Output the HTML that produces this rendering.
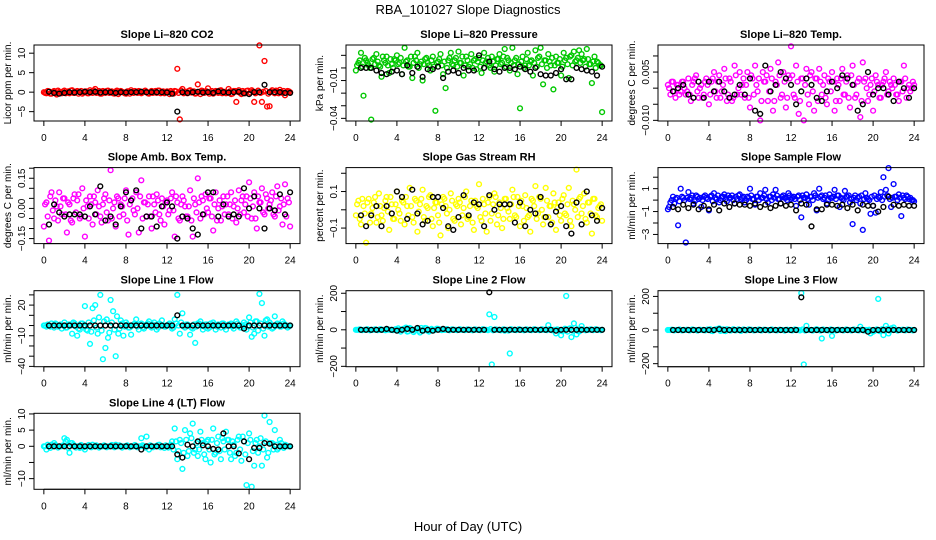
<!DOCTYPE html>
<html><head><meta charset="utf-8"><style>
html,body{margin:0;padding:0;background:#fff;}
svg{display:block;font-family:"Liberation Sans",sans-serif;}
</style></head><body>
<svg id="chart" width="936" height="540" viewBox="0 0 936 540" xmlns="http://www.w3.org/2000/svg">
<rect x="0" y="0" width="936" height="540" fill="#fff"/>
<text x="468" y="14" text-anchor="middle" font-size="13">RBA_101027  Slope Diagnostics</text>
<text x="468" y="531" text-anchor="middle" font-size="13">Hour of Day (UTC)</text>
<g id="panels"></g>
</svg>
<script>
const xTicks = [0,4,8,12,16,20,24];

const co2Vals = [0,-0.3,0.2,-0.4,0.3,-0.6,0.1,-0.3, 0.4,0,-0.3,0.5,-0.2,0.3,0,-0.4, 0.2,-0.3,0.5,-0.2,0.8,0,-0.4,0.3, -0.2,0.4,0,-0.3,0.2,-0.5,0.3,0, -0.4,0.2,0.5,-0.2,0,0.3,-0.3,0.2, 0,-0.4,0.3,0,-0.2,0.4,0,-0.3, 0.2,-0.5,0,0.3,6,-7,0.8,0, -0.3,0.5,0,-0.4,2,-0.5,0.3,0, 1,0,-0.4,0.3,-0.2,0.5,0,-0.3, 0.8,-0.5,0.3,-2.5,0.5,-0.5,0,0.3, -0.4,0.5,-2.5,0,12,-2.5,8,-3.7, -3.6,0.5,-0.3,0.2,0.6,-0.2,-0.8,0.3, 0];
const co2Band = [-0.2,0.3,-0.4,0.1,-0.3,0.4,-0.1,0.2, -0.3,0.2,0.4,-0.2,0.1,-0.4,0.3,-0.1, 0.2,-0.3,0.1,0.4,-0.2,0.3,-0.4,0.1, 0.3,-0.2,0.2,-0.4,0.4,-0.1,0.1,-0.3, 0.2,-0.4,0.1,0.3,-0.2,0.2,-0.1,0.4, -0.3,0.1,-0.2,0.3,0.4,-0.3,0.2,-0.1, 0.1,0.3,-0.4,0.2,-0.2,0.4,-0.3,0.1, 0.3,-0.1,0.2,-0.3,0.1,0.4,-0.2,0.2, -0.4,0.3,-0.1,0.2,0.4,-0.3,0.1,-0.2, 0.2,-0.4,0.3,0.1,-0.2,0.3,-0.3,0.4, -0.1,0.2,-0.3,0.4,-0.2,0.1,0.3,-0.4, 0.2,-0.1,0.4,-0.3,0.1,0.3,-0.2,0.2, -0.1];
const co2Blk = [0.1,-0.2,-0.4,-0.2,0,-0.1,0,0.1, 0,0.1,-0.1,0, 0,-0.2,0,-0.1, 0,0,0.1,0, 0,0,0,-0.1, -0.4,-5,0,-0.2, 0,0.1,-0.1,0, -0.2,0.2,0,-0.1, 0,0.1,-0.3,-0.5, 0,0,1.9,0, 0,0,-0.2,-0.2];

const presVals = [-0.002,0.004,0.012,-0.022,0.006,0.002,-0.041,0.008, 0.011,0.002,-0.007,0.006,0.009,-0.004,0.003,0.007, 0.010,0.004,-0.005,0.016,0.006,0.001,-0.008,0.009, 0.012,0.003,-0.010,0.007,0.004,-0.002,0.009,-0.034, 0.005,0.011,-0.005,-0.016,0.006,0.012,0.002,0.008, 0.013,0.004,-0.006,0.009,0.001,0.011,0.006,-0.001, 0.008,-0.004,0.012,0.005,0.002,0.009,-0.003,0.007, 0.011,0.004,0.015,0.008,-0.002,0.016,0.006,-0.005, -0.032,0.009,0.002,0.012,0.005,-0.006,0.014,0.008, 0.016,-0.013,0.006,0.011,0.002,-0.017,0.009,0.004, -0.006,0.012,0.008,-0.008,0.010,0.013,0.006,0.014, 0.011,0.007,0.015,0.003,-0.012,0.009,0.005,0.002, -0.035];
const presBand = [0.002,0.006,0.001,0.008,0.004,0.000,0.007,0.003, 0.005,0.001,0.009,0.004,0.002,0.007,0.000,0.006, 0.003,0.008,0.002,0.005,0.001,0.009,0.004,0.006, 0.000,0.005,0.003,0.008,0.002,0.006,0.001,0.004, 0.007,0.002,0.005,0.000,0.008,0.003,0.006,0.001, 0.004,0.009,0.002,0.006,0.003,0.000,0.007,0.005, 0.001,0.006,0.004,0.008,0.000,0.005,0.002,0.007, 0.003,0.009,0.001,0.006,0.004,0.002,0.008,0.003, 0.005,0.000,0.007,0.002,0.006,0.004,0.001,0.009, 0.003,0.006,0.000,0.005,0.008,0.002,0.004,0.007, 0.001,0.006,0.003,0.009,0.002,0.005,0.008,0.004, 0.006,0.001,0.007,0.003,0.005,0.000,0.004,0.002, 0.003];
const presBlk = [0,0,0,-0.002,-0.004,-0.005,-0.003,-0.002, -0.005,0.002,-0.004,0.001, -0.007,-0.001,-0.001,0.001, -0.008,-0.003,-0.002,-0.004, 0,-0.002,-0.002,0.010, 0,0.005,-0.001,-0.003, 0,0,-0.001,0.001, -0.001,-0.003,0,-0.005, -0.006,-0.006,-0.004,-0.001, -0.009,-0.009,0,-0.001, -0.002,-0.003,-0.006,0.001];

const tempVals = [0.001,-0.002,0.002,-0.003,0.001,-0.001,0.002,-0.002, 0.003,-0.004,0.002,0.004,-0.003,0.001,-0.002,0.003, -0.005,0.002,0.005,-0.003,0.004,-0.001,0.006,-0.004, 0.003,-0.004,0.007,-0.002,0.005,0.001,-0.003,0.005, -0.006,0.003,0.007,-0.001,-0.010,0.005,0.002,-0.004, 0.006,-0.007,0.002,0.008,-0.003,0.005,-0.006,0.004, 0.013,-0.002,0.007,-0.008,0.003,-0.010,0.006,-0.005, 0.005,-0.007,0.003,0.006,-0.002,0.004,-0.005,0.002, 0.005,-0.007,0.003,-0.004,0.006,-0.002,0.004,-0.006, 0.007,-0.003,0.002,-0.009,0.008,0.003,-0.004,0.001, -0.007,0.004,0.001,-0.003,0.002,0.005,-0.001,0.001, 0.003,-0.002,-0.004,0.002,0.007,-0.003,0.001,0.000, 0.001];
const tempBand = [0.000,0.002,-0.001,0.001,-0.002,0.002,0.000,-0.001, -0.002,0.001,0.003,-0.001,0.000,-0.003,0.002,0.001, -0.002,0.003,-0.001,0.002,-0.003,0.001,0.003,-0.002, 0.002,-0.003,0.004,0.000,-0.002,0.003,0.001,-0.003, 0.004,-0.002,0.001,0.003,-0.004,0.002,0.004,-0.001, 0.003,-0.004,0.001,0.004,-0.002,0.002,-0.003,0.003, 0.004,-0.003,0.002,-0.004,0.003,0.001,-0.002,0.004, -0.001,0.003,-0.004,0.002,0.001,-0.003,0.003,-0.001, 0.002,-0.004,0.001,0.003,-0.002,0.002,-0.003,0.004, 0.001,-0.002,0.003,-0.004,0.002,0.000,-0.002,0.003, -0.001,0.002,-0.003,0.001,0.003,-0.002,0.002,0.000, 0.001,-0.002,0.002,-0.001,0.003,0.000,-0.001,0.002, 0.000];
const tempBlk = [-0.001,0,0.001,-0.002,-0.003,0.002,-0.003,0.002, -0.001,0.002,-0.001,-0.003, -0.002,0.001,-0.002,0.003, -0.007,-0.008,0.007,-0.001, 0.001,0.005,0.003,0.001, -0.005,-0.001,0.003,0.001, -0.003,-0.004,-0.001,0.002, 0,0.004,0.003,0.001, -0.007,-0.005,0.005,-0.002, 0,0,-0.002,-0.004, 0.002,0,-0.003,0];

const ambVals = [-0.09,0.03,-0.16,0.08,-0.05,0.01,0.08,-0.03, 0.05,-0.12,0.02,-0.07,0.07,0.04,-0.05,0.10, -0.14,0.01,0.06,-0.08,0.03,0.09,-0.04,0.02, 0.07,-0.06,0.19,0.00,-0.09,0.05,0.02,-0.03, 0.09,-0.13,0.04,-0.01,0.08,-0.12,0.14,0.03, -0.04,0.06,-0.10,0.02,0.07,-0.03,0.05,-0.08, 0.04,-0.01,0.08,-0.14,0.03,-0.06,0.06,0.01, -0.04,0.09,-0.14,0.02,0.15,-0.05,0.04,0.07, -0.02,0.05,-0.11,0.08,0.00,-0.06,0.06,0.02, -0.03,0.08,0.01,-0.07,0.09,0.04,-0.02,0.06, 0.13,-0.05,0.08,-0.10,0.03,0.10,-0.03,0.05, 0.02,0.08,-0.04,0.11,0.01,-0.08,0.12,0.05, -0.09];
const ambBand = [0.02,-0.04,0.06,-0.01,0.04,-0.06,0.01,0.05, -0.03,0.03,-0.06,0.05,-0.02,0.07,-0.04,0.00, 0.04,-0.05,0.02,0.06,-0.03,0.01,-0.07,0.05, -0.02,0.04,-0.05,0.03,0.06,-0.04,0.01,0.05, -0.06,0.02,0.05,-0.03,0.00,0.06,-0.05,0.03, 0.02,-0.04,0.06,-0.02,0.04,-0.06,0.01,0.03, -0.03,0.05,-0.01,0.06,-0.05,0.02,0.04,-0.04, 0.01,-0.06,0.05,-0.02,0.03,0.06,-0.03,0.00, 0.05,-0.04,0.02,-0.06,0.04,0.01,-0.03,0.06, 0.02,-0.05,0.04,0.00,-0.03,0.06,0.02,-0.04, 0.05,0.01,-0.05,0.06,0.03,-0.02,0.07,0.00, 0.04,-0.03,0.06,-0.01,0.05,0.02,-0.04,0.03, 0.01];
const ambBlk = [-0.08,0.02,-0.02,-0.04,-0.03,-0.03,-0.03,-0.04, 0.01,-0.03,0.11,-0.06, -0.04,-0.08,0.01,0.08, 0.04,0.09,-0.10,-0.04, -0.04,-0.09,0.01,0.03, 0.01,-0.15,-0.04,-0.05, -0.10,-0.13,-0.03,0.08, 0.08,-0.04,0.02,-0.04, -0.03,-0.04,0.10,0.00, 0.06,0.00,-0.10,0.00, -0.01,0.07,-0.03,0.08];

const rhVals = [-0.03,0.05,-0.08,0.02,-0.18,0.06,-0.02,0.04, -0.07,0.09,-0.03,0.01,0.07,-0.11,0.03,-0.05, 0.10,-0.02,0.05,-0.08,0.02,0.12,-0.04,0.06, -0.12,0.03,0.11,-0.06,0.01,0.08,-0.09,0.04, -0.03,-0.14,0.07,0.02,-0.10,0.09,-0.05,0.03, 0.06,-0.08,0.01,0.10,-0.04,0.05,-0.11,0.02, 0.14,-0.06,0.03,-0.12,0.07,-0.02,0.09,-0.08, 0.04,-0.10,0.06,0.01,-0.05,0.11,-0.03,0.07, -0.09,0.02,0.08,-0.04,-0.12,0.05,0.13,-0.02, 0.06,-0.08,0.12,-0.04,0.02,0.09,-0.11,0.04, -0.06,0.08,-0.03,0.12,-0.09,0.03,0.22,0.06, -0.02,0.09,-0.07,0.04,-0.13,0.06,-0.04,0.02, -0.06];
const rhBand = [0.03,-0.05,0.06,-0.02,0.04,-0.07,0.01,0.07, -0.04,0.02,-0.06,0.05,-0.01,0.07,-0.05,0.03, 0.00,-0.06,0.04,0.07,-0.03,0.02,-0.07,0.05, -0.01,0.06,-0.04,0.02,0.07,-0.05,0.01,0.04, -0.07,0.03,0.06,-0.02,0.00,0.05,-0.06,0.02, 0.04,-0.03,0.07,-0.05,0.02,-0.07,0.05,0.01, -0.04,0.06,-0.02,0.04,-0.06,0.03,0.07,-0.03, 0.01,-0.05,0.06,-0.01,0.03,0.07,-0.04,0.02, 0.05,-0.06,0.01,-0.03,0.06,0.02,-0.05,0.07, 0.00,-0.04,0.05,0.02,-0.07,0.04,0.01,-0.03, 0.06,-0.02,0.03,-0.06,0.05,0.00,-0.04,0.07, 0.02,-0.05,0.04,-0.02,0.06,-0.03,0.01,0.03, 0.00];
const rhBlk = [-0.03,-0.09,-0.03,0.02,-0.09,0.02,-0.02,0.10, 0.07,-0.05,0.11,-0.02, -0.08,-0.06,0.07,0.07, 0.01,-0.09,-0.11,-0.04, 0.08,-0.03,0.04,0.03, -0.09,0.08,0.00,0.03, 0.03,0.03,-0.07,0.04, -0.09,0.00,-0.02,0.07, -0.04,-0.08,-0.01,0.02, -0.09,-0.13,0.04,-0.08, 0.10,-0.03,-0.06,0.01];

const sfVals = [-0.8,-0.2,0.3,0.1,-2.2,1.0,0.2,-3.7, 0.7,0.2,-0.3,0.4,0.1,-0.6,0.3,0.2, -0.9,0.4,0.6,0.1,-0.2,0.3,0.5,-0.1, 0.2,0.4,-0.3,0.1,0.5,0.2,-0.2,0.3, 1.0,0.1,-0.4,0.3,0.6,0.2,0.9,-0.2, 0.3,0.5,0.9,0.1,-0.3,0.4,0.2,0.6, 0.1,0.3,-0.5,0.4,-1.5,0.2,0.5,-0.4, 0.3,0.6,-0.9,1.0,0.4,0.2,-0.3,0.5, 0.2,0.9,0.4,-0.6,0.1,0.8,0.3,-0.2, -2.1,0.4,0.2,-0.3,-2.6,0.6,0.1,-1.2, -0.5,-1.1,0.3,0.7,2.0,0.9,2.8,-0.6, 1.4,0.3,0.5,-1.4,0.2,0.4,0.1,0, -0.1];
const sfBand = [-0.6,0.0,-0.3,0.2,-0.1,0.3,0.0,0.2, 0.1,0.4,-0.1,0.3,0.2,0.0,0.4,0.1, 0.3,-0.1,0.2,0.4,0.0,0.3,0.1,0.4, 0.2,0.0,0.3,0.4,0.1,0.3,0.0,0.2, 0.4,0.1,0.3,0.0,0.2,0.4,0.1,0.3, 0.0,0.2,0.4,0.1,0.3,0.2,0.0,0.4, 0.2,0.1,0.3,0.0,0.4,0.2,0.1,0.3, 0.0,0.4,0.2,0.3,0.1,0.4,0.0,0.2, 0.3,0.1,0.4,0.2,0.0,0.3,0.4,0.1, 0.2,0.0,0.3,0.4,0.1,0.2,0.0,0.3, 0.4,0.1,0.2,0.0,0.3,0.4,0.1,0.2, 0.3,0.0,0.2,0.4,0.1,0.3,0.2,0.0, 0.1];
const sfBlk = [-0.6,-0.8,-0.4,-0.7,-0.4,-0.8,-0.5,-0.8, -0.4,-0.9,-0.3,-0.6, -0.3,-0.4,-0.4,-0.5, -0.3,-0.6,-0.4,-0.7, -0.5,-0.3,-0.5,-0.4, -0.9,-0.3,-0.4,-2.3, -0.8,-0.8,-0.4,-0.4, -0.5,-0.4,-0.7,-0.4, -0.9,-0.4,-0.5,-0.5, -1.0,-0.6,0.3,-0.4, -0.5,-0.4,-0.5,-0.5];

const l1Vals = [0,-1,0,2,-2,1,0,-3, 3,-2,1,-8,2,-10,-4,2, 19,-5,-18,17,20,-8,30,-33, -22,-12,25,14,-30,-8,5,-10, 3,-2,-9,1,6,-4,2,-3, 1,4,-2,3,-4,2,5,-1, 0,2,-3,6,30,-8,12,-2, 1,-9,-3,-17,2,4,-4,1, -3,2,3,-4,1,-2,2,-4, 1,2,-3,4,0,-2,3,-4, 8,-11,-8,4,31,22,-10,6, 3,-3,9,2,-1,4,1,-2, 0];
const l1Band = [0,1,-1,0,2,-1,1,0, -2,1,0,3,-1,-3,2,0, -4,3,-6,5,-2,8,-5,4, 6,-7,3,-4,9,-3,2,-1, 1,-2,0,2,-1,1,-2,0, 2,-1,1,0,-2,1,0,-1, 1,0,-2,2,0,3,-1,1, 0,-2,1,-1,2,0,-1,1, -2,0,1,-1,0,2,-1,0, 1,-1,0,2,-2,0,1,-1, 3,-2,4,-5,2,-3,5,-1, 1,-2,0,1,-1,2,0,-1, 0];
const l1Blk = [0,0,0,0,0,0,0,0, 0,0,0,0, 0,0,0,0, 0,0,0,0, 0,0,0,0, 0,10,0,0, 0,0,0,0, 0,0,0,0, 0,0,-3,0, 0,0,0,0, 0,0,0,0];

const l2Vals = [0,0,0,0,0,0,0,0, 0,0,0,0,0,0,0,0, 0,0,0,5,-10,10,0,-5, 5,-15,0,10,-5,0,0,0, 5,0,0,0,0,0,0,0, 0,0,0,0,0,0,0,0, 0,0,0,0,85,-190,70,0, 0,0,-5,0,-130,0,0,0, 0,0,0,0,0,0,0,0, 0,0,0,25,0,0,-20,0, -30,0,185,5,-40,35,-25,-10, 20,0,0,0,0,0,0,0, 0];
const l2Band = [0,2,-2,0,3,-3,0,2, -2,3,0,-3,2,0,-2,3, 8,-10,5,12,-8,6,-12,4, -6,10,-4,8,-10,5,-3,6, 3,-2,0,4,-3,2,0,-2, 3,0,-2,2,0,-3,2,0, -2,3,0,-2,4,-3,2,0, -3,2,0,-4,3,0,-2,3, 0,-3,2,0,-2,3,0,-2, 3,0,-2,4,-3,0,2,-3, -8,6,-10,8,-5,10,-6,4, 2,-3,0,2,-2,3,0,-2, 0];
const l2Blk = [0,0,0,0,0,5,0,-5, 0,5,0,10, -5,0,-5,0, 5,0,0,0, 0,0,0,0, 0,205,0,0, 0,0,0,0, 0,0,0,0, 0,0,-5,0, 0,0,0,0, 0,0,0,0];

const l3Vals = [0,0,0,0,0,0,0,0, 0,0,0,0,0,0,0,0, 0,-5,0,5,10,0,-5,5, 0,0,0,0,0,0,0,0, 0,0,0,0,0,0,0,0, 0,0,0,0,0,0,0,0, 0,0,0,0,220,-205,25,0, 0,0,5,0,-50,0,0,0, -35,0,0,0,0,0,0,0, 0,0,0,20,0,0,0,-20, -10,0,185,0,-30,25,-20,10, 15,0,0,0,0,0,0,0, 0];
const l3Band = [0,2,-2,0,3,-2,0,2, -2,3,0,-3,2,0,-2,3, 5,-6,3,6,-5,4,-6,3, -3,5,-2,4,-5,3,-2,4, 2,-2,0,3,-2,2,0,-2, 3,0,-2,2,0,-3,2,0, -2,3,0,-2,3,-3,2,0, -3,2,0,-3,3,0,-2,3, 0,-3,2,0,-2,3,0,-2, 3,0,-2,3,-3,0,2,-3, -5,4,-6,5,-4,6,-4,3, 2,-3,0,2,-2,3,0,-2, 0];
const l3Blk = [0,0,0,0,0,0,0,0, 0,5,0,0, 0,0,0,0, 0,0,0,0, 0,0,0,0, 0,195,0,0, 0,0,0,0, 0,0,0,0, 0,0,-10,0, 0,0,0,0, 0,0,0,0];

const l4Vals = [0,-1,0,0.5,1,0,0,0, 2.5,2,-2,1,0,0,-0.5,0, -1,0,0,0.5,0,0,0,0, 0,0,0,0,0.5,0,0,0, 0,0,0,0,0,0,2.5,0, 3,-1,0,0,0,0.5,0,-0.5, 0,0,1.5,5.5,-4,2,-7,5, -3,4,7,-1,-3,4.5,1,-4, 2,-5,5.5,-2,3,-4,1.5,4.5, 2,-4,0.5,-2,3,-4.5,1.5,-12, 4,-12.5,-6,2,0,-6,9.5,-3.5, 7.5,1,5,-1,2,0,0.5,0, 0];
const l4Band = [0,0.5,-0.5,0,0.4,-0.4,0,0.3, 1.5,-0.5,1,0.5,-0.4,0,0.4,-0.3, 0,0.4,-0.3,0,0.3,-0.4,0,0.3, -0.3,0,0.4,-0.3,0,0.3,-0.4,0, 0.3,-0.3,0,0.4,-0.3,0,0.3,-0.4, 0,0.3,-0.3,0,0.4,-0.3,0,0.3, -0.4,0.5,-1,1.5,-1.5,1,-2,2, -1.5,2.5,-2,1,-1,2,-2.5,1.5, -1,2,-2.5,1,-1.5,2.5,-1,2, -2,1.5,-3,2,-1,3,-2.5,1, 2,-1.5,1,-2,2.5,-1,1.5,-2, 1,-1,0.5,-0.5,1,-0.5,0.3,0, 0];
const l4Blk = [0,0,0,0,0,0,0,0, 0,0,0,0, 0,0,0,0, 0,0,-1,0, 0,0,0,0, 0,-2.5,-3.5,0.5, 0,1.5,0.3,0, -0.8,-1,4,0, 0,-2.2,1.5,-4, -0.5,-0.5,1,0.8, 0,0,0,0];

const panels = [
 {id:'co2', title:'Slope Li\u2013820 CO2', ylab:'Licor ppm per min.', col:0,row:0, ylim:[-7.4,12.1], ticks:[-5,0,5,10], labels:['\u22125','0','5','10'], color:'#ff0000', vals:co2Vals, band:co2Band, blk:co2Blk},
 {id:'pressure', title:'Slope Li\u2013820 Pressure', ylab:'kPa per min.', col:1,row:0, ylim:[-0.0421,0.0182], ticks:[-0.04,-0.03,-0.02,-0.01,0,0.01], labels:['\u22120.04','','','\u22120.01','',''], color:'#00c800', vals:presVals, band:presBand, blk:presBlk},
 {id:'temp', title:'Slope Li\u2013820 Temp.', ylab:'degrees C per min.', col:2,row:0, ylim:[-0.0102,0.0134], ticks:[-0.01,-0.005,0,0.005,0.01], labels:['\u22120.010','','','0.005',''], color:'#ff00ff', vals:tempVals, band:tempBand, blk:tempBlk},
 {id:'amb-temp', title:'Slope Amb. Box Temp.', ylab:'degrees C per min.', col:0,row:1, ylim:[-0.175,0.203], ticks:[-0.15,-0.1,-0.05,0,0.05,0.1,0.15,0.2], labels:['\u22120.15','','','0.00','','','0.15',''], color:'#ff00ff', vals:ambVals, band:ambBand, blk:ambBlk},
 {id:'rh', title:'Slope Gas Stream RH', ylab:'percent per min.', col:1,row:1, ylim:[-0.185,0.231], ticks:[-0.1,0,0.1,0.2], labels:['\u22120.1','','0.1',''], color:'#ffff00', vals:rhVals, band:rhBand, blk:rhBlk},
 {id:'sample-flow', title:'Slope Sample Flow', ylab:'ml/min per min.', col:2,row:1, ylim:[-3.8,2.84], ticks:[-3,-2,-1,0,1,2], labels:['\u22123','','\u22121','','1',''], color:'#0000ff', vals:sfVals, band:sfBand, blk:sfBlk},
 {id:'line1', title:'Slope Line 1 Flow', ylab:'ml/min per min.', col:0,row:2, ylim:[-40.3,34.1], ticks:[-40,-30,-20,-10,0,10,20,30], labels:['\u221240','','','\u221210','','','20',''], color:'#00ffff', vals:l1Vals, band:l1Band, blk:l1Blk},
 {id:'line2', title:'Slope Line 2 Flow', ylab:'ml/min per min.', col:1,row:2, ylim:[-202,214], ticks:[-200,-100,0,100,200], labels:['\u2212200','','0','','200'], color:'#00ffff', vals:l2Vals, band:l2Band, blk:l2Blk},
 {id:'line3', title:'Slope Line 3 Flow', ylab:'ml/min per min.', col:2,row:2, ylim:[-218,234], ticks:[-200,-100,0,100,200], labels:['\u2212200','','0','','200'], color:'#00ffff', vals:l3Vals, band:l3Band, blk:l3Blk},
 {id:'line4', title:'Slope Line 4 (LT) Flow', ylab:'ml/min per min.', col:0,row:3, ylim:[-13.3,10.2], ticks:[-10,-5,0,5,10], labels:['\u221210','','0','5','10'], color:'#00ffff', vals:l4Vals, band:l4Band, blk:l4Blk}
];

const NS='http://www.w3.org/2000/svg';
const colLeft=[34,346,658], rowTop=[45,167.6,290.7,413.3], BW=266, BH=76, XMIN=-0.96, XMAX=24.96;
const root=document.getElementById('panels');
function mk(tag,attrs,parent){const e=document.createElementNS(NS,tag);for(const k in attrs)e.setAttribute(k,attrs[k]);parent.appendChild(e);return e;}

panels.forEach(p=>{
  const L=colLeft[p.col], T=rowTop[p.row];
  const xs=h=>L+(h-XMIN)/(XMAX-XMIN)*BW;
  const ys=v=>T+BH-(v-p.ylim[0])/(p.ylim[1]-p.ylim[0])*BH;
  const g=mk('g',{},root);
  
  
  const t=mk('text',{x:L+BW/2,y:T-7,'text-anchor':'middle','font-size':'11','font-weight':'bold'},g);
  t.textContent=p.title;
  
  
  const yl=mk('text',{transform:`translate(${L-23},${T+BH/2}) rotate(-90)`,'text-anchor':'middle','font-size':'10'},g);
  yl.textContent=p.ylab;
  
  
  const pts=mk('g',{fill:'none','stroke-width':'1.4'},g);
  
  
  const n=p.vals.length;
  p.band.forEach((v,i)=>{
    const h=(i+0.5)*24/(n-1);
    if(h>24) return;
    const c=mk('circle',{cx:xs(h).toFixed(1),cy:ys(v).toFixed(1),r:'2.4',stroke:p.color},pts);
    
    
  });
  p.vals.forEach((v,i)=>{
    const h=i*24/(n-1);
    const c=mk('circle',{cx:xs(h).toFixed(1),cy:ys(v).toFixed(1),r:'2.4',stroke:p.color},pts);
    
    
  });
  p.blk.forEach((v,i)=>{
    const h=(i+1)*0.5;
    const c=mk('circle',{cx:xs(h).toFixed(1),cy:ys(v).toFixed(1),r:'2.4',stroke:'#000'},pts);
    
    
  });
  const box=mk('rect',{x:L,y:T,width:BW,height:BH,fill:'none',stroke:'#000','stroke-width':'1'},g);
  
  
  const xa=mk('g',{},g);
  
  
  mk('line',{x1:xs(0),x2:xs(24),y1:T+BH,y2:T+BH,stroke:'#000'},xa);
  xTicks.forEach(tv=>{
    mk('line',{x1:xs(tv),x2:xs(tv),y1:T+BH,y2:T+BH+5,stroke:'#000'},xa);
    const tl=mk('text',{x:xs(tv),y:T+BH+20,'text-anchor':'middle','font-size':'10'},xa);
    tl.textContent=String(tv);
    
    
  });
  const ya=mk('g',{},g);
  
  
  p.ticks.forEach((tv,i)=>{
    const y=ys(tv);
    mk('line',{x1:L-5,x2:L,y1:y,y2:y,stroke:'#000'},ya);
    if(p.labels[i]){
      const tl=mk('text',{transform:`translate(${L-9},${y}) rotate(-90)`,'text-anchor':'middle','font-size':'10'},ya);
      tl.textContent=p.labels[i];
      
      
    }
  });
});
</script>
</body></html>
